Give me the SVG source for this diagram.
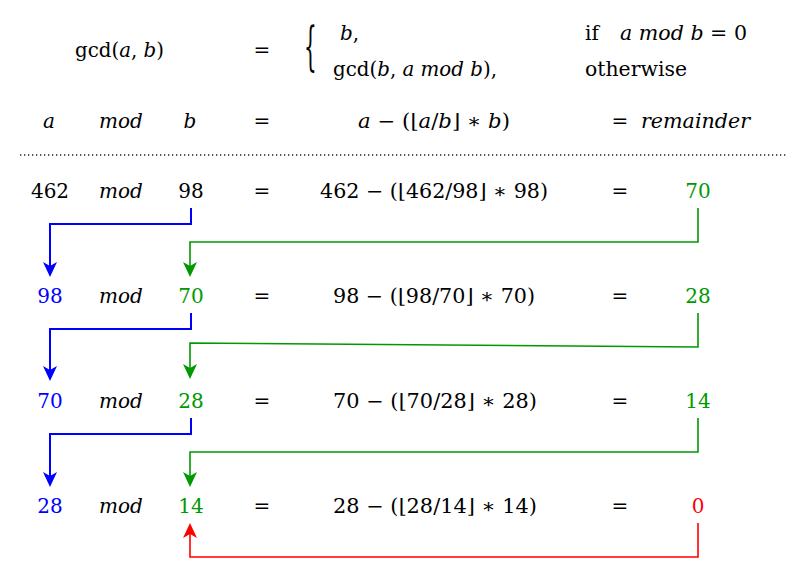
<svg xmlns="http://www.w3.org/2000/svg" width="806" height="580" viewBox="0 0 806 580">
<style>
.t{font-family:"DejaVu Serif",serif;font-size:20px;fill:#000}
.i{font-style:italic}
.m{text-anchor:middle}
.blue{fill:#0000ff}
.green{fill:#009900}
.red{fill:#ff0000}
.cb{fill:none;stroke:#0000ff;stroke-width:2}
.cg{fill:none;stroke:#009900;stroke-width:1.6}
.cr{fill:none;stroke:#ff0000;stroke-width:1.6}
</style>
<defs>
<marker id="ab" viewBox="0 -8 16 16" refX="11" refY="0" markerWidth="16" markerHeight="16" orient="auto" markerUnits="userSpaceOnUse"><path d="M15,0 L0,-7 L4,0 L0,7 Z" fill="#0000ff"/></marker>
<marker id="ag" viewBox="0 -8 16 16" refX="11" refY="0" markerWidth="16" markerHeight="16" orient="auto" markerUnits="userSpaceOnUse"><path d="M15,0 L0,-7 L4,0 L0,7 Z" fill="#009900"/></marker>
<marker id="ar" viewBox="0 -8 16 16" refX="11" refY="0" markerWidth="16" markerHeight="16" orient="auto" markerUnits="userSpaceOnUse"><path d="M15,0 L0,-7 L4,0 L0,7 Z" fill="#ff0000"/></marker>
</defs>
<rect width="806" height="580" fill="#fff"/>

<!-- definition -->
<g id="def-lhs"><text class="t" x="75" y="57" textLength="89" lengthAdjust="spacingAndGlyphs">gcd(<tspan class="i">a</tspan>, <tspan class="i">b</tspan>)</text></g>
<g id="def-eq"><text class="t m" x="262" y="57">=</text></g>
<g id="def-brace"><text class="t" transform="translate(304 64) scale(1 2.57)" font-size="33">{</text></g>
<g id="def-case1"><text class="t" x="340" y="40"><tspan class="i">b</tspan>,</text></g>
<g id="def-case2"><text class="t" x="333" y="76" textLength="164" lengthAdjust="spacingAndGlyphs">gcd(<tspan class="i">b</tspan>, <tspan class="i">a mod b</tspan>),</text></g>
<g id="def-cond1"><text class="t" x="585" y="40">if</text><text class="t" x="620" y="40" textLength="127" lengthAdjust="spacingAndGlyphs"><tspan class="i">a mod b</tspan> = 0</text></g>
<g id="def-cond2"><text class="t" x="585" y="76" textLength="102" lengthAdjust="spacingAndGlyphs">otherwise</text></g>

<!-- header row -->
<g id="h-a"><text class="t i m" x="49" y="128">a</text></g>
<g id="h-mod"><text class="t i m" x="121" y="128">mod</text></g>
<g id="h-b"><text class="t i m" x="190" y="128">b</text></g>
<g id="h-eq1"><text class="t m" x="262" y="128">=</text></g>
<g id="h-expr"><text class="t" x="358" y="128" textLength="152" lengthAdjust="spacingAndGlyphs"><tspan class="i">a</tspan> − (⌊<tspan class="i">a</tspan>/<tspan class="i">b</tspan>⌋ ∗ <tspan class="i">b</tspan>)</text></g>
<g id="h-eq2"><text class="t m" x="620" y="128">=</text></g>
<g id="h-rem"><text class="t i" x="641" y="128" textLength="109" lengthAdjust="spacingAndGlyphs">remainder</text></g>

<line x1="20" y1="155" x2="787" y2="155" stroke="#222" stroke-width="1.3" stroke-dasharray="1.3 2.7"/>

<!-- row 1 -->
<g id="r1-a"><text class="t m" x="50" y="198">462</text></g>
<g id="r1-mod"><text class="t i m" x="121" y="198">mod</text></g>
<g id="r1-b"><text class="t m" x="191" y="198">98</text></g>
<g id="r1-eq1"><text class="t m" x="262" y="198">=</text></g>
<g id="r1-expr"><text class="t" x="320" y="198" textLength="228" lengthAdjust="spacingAndGlyphs">462 − (⌊462/98⌋ ∗ 98)</text></g>
<g id="r1-eq2"><text class="t m" x="620" y="198">=</text></g>
<g id="r1-r"><text class="t m green" x="698" y="198">70</text></g>

<!-- row 2 -->
<g id="r2-a"><text class="t m blue" x="50" y="303">98</text></g>
<g id="r2-mod"><text class="t i m" x="121" y="303">mod</text></g>
<g id="r2-b"><text class="t m green" x="191" y="303">70</text></g>
<g id="r2-eq1"><text class="t m" x="262" y="303">=</text></g>
<g id="r2-expr"><text class="t" x="333" y="303" textLength="202" lengthAdjust="spacingAndGlyphs">98 − (⌊98/70⌋ ∗ 70)</text></g>
<g id="r2-eq2"><text class="t m" x="620" y="303">=</text></g>
<g id="r2-r"><text class="t m green" x="698" y="303">28</text></g>

<!-- row 3 -->
<g id="r3-a"><text class="t m blue" x="50" y="408">70</text></g>
<g id="r3-mod"><text class="t i m" x="121" y="408">mod</text></g>
<g id="r3-b"><text class="t m green" x="191" y="408">28</text></g>
<g id="r3-eq1"><text class="t m" x="262" y="408">=</text></g>
<g id="r3-expr"><text class="t" x="333" y="408" textLength="204" lengthAdjust="spacingAndGlyphs">70 − (⌊70/28⌋ ∗ 28)</text></g>
<g id="r3-eq2"><text class="t m" x="620" y="408">=</text></g>
<g id="r3-r"><text class="t m green" x="698" y="408">14</text></g>

<!-- row 4 -->
<g id="r4-a"><text class="t m blue" x="50" y="513">28</text></g>
<g id="r4-mod"><text class="t i m" x="121" y="513">mod</text></g>
<g id="r4-b"><text class="t m green" x="191" y="513">14</text></g>
<g id="r4-eq1"><text class="t m" x="262" y="513">=</text></g>
<g id="r4-expr"><text class="t" x="333" y="513" textLength="204" lengthAdjust="spacingAndGlyphs">28 − (⌊28/14⌋ ∗ 14)</text></g>
<g id="r4-eq2"><text class="t m" x="620" y="513">=</text></g>
<g id="r4-r"><text class="t m red" x="698" y="513">0</text></g>

<!-- connectors -->
<g id="connectors">
<path class="cb" d="M191,208 V224 H50 V273" marker-end="url(#ab)"/>
<path class="cg" d="M698,208 V242 H190 V273" marker-end="url(#ag)"/>
<path class="cb" d="M191,313 V329 H50 V377" marker-end="url(#ab)"/>
<path class="cg" d="M698,313 V347 L190,343 V375" marker-end="url(#ag)"/>
<path class="cb" d="M191,418 V434 H50 V483" marker-end="url(#ab)"/>
<path class="cg" d="M698,418 V452 H190 V483" marker-end="url(#ag)"/>
<path class="cr" d="M698,523 V557 H190 V527" marker-end="url(#ar)"/>
</g>
</svg>
